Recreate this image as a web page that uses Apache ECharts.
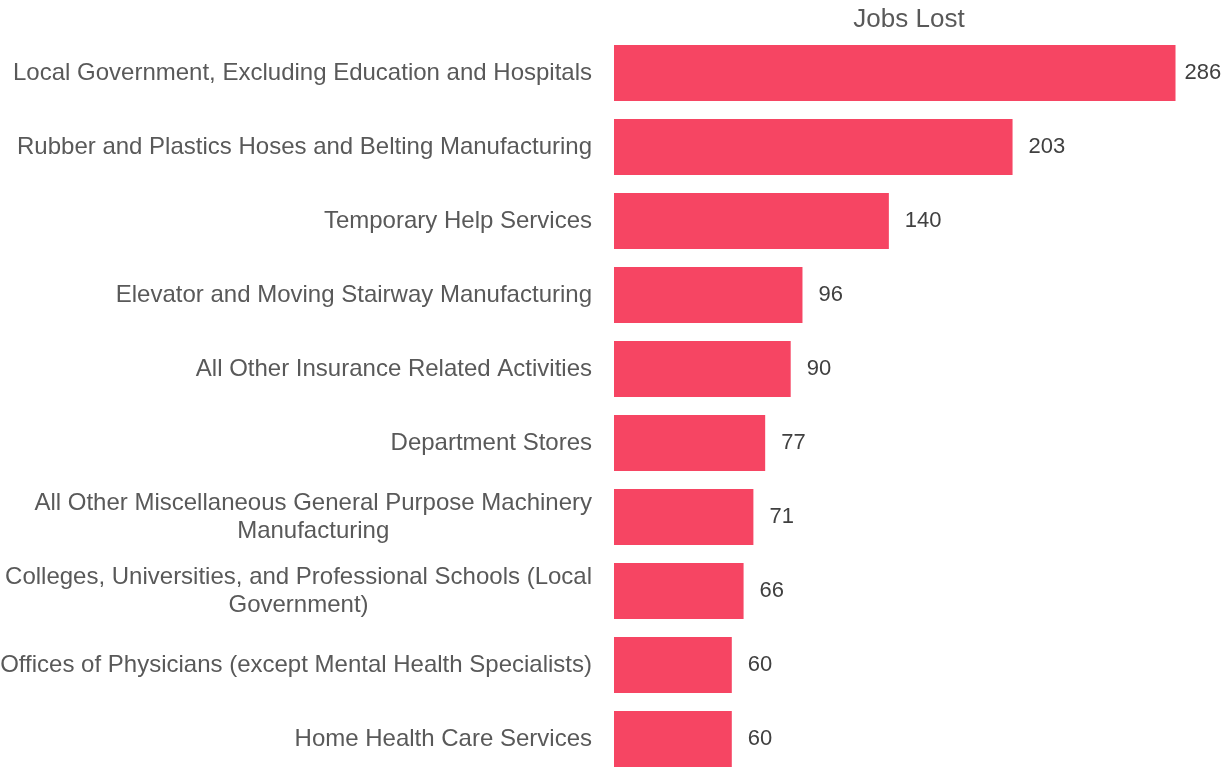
<!DOCTYPE html>
<html>
<head>
<meta charset="utf-8">
<script src="https://cdn.jsdelivr.net/npm/echarts@6/dist/echarts.min.js"></script>
<style>
  html, body { margin: 0; padding: 0; background: #ffffff; }
  #chart { width: 1225px; height: 768px; }
</style>
</head>
<body>
<div id="chart"></div>
<script>
// Industries (top to bottom) and the number of jobs lost in each
const industries = [
  'Local Government, Excluding Education and Hospitals',
  'Rubber and Plastics Hoses and Belting Manufacturing',
  'Temporary Help Services',
  'Elevator and Moving Stairway Manufacturing',
  'All Other Insurance Related Activities',
  'Department Stores',
  'All Other Miscellaneous General Purpose Machinery\nManufacturing',
  'Colleges, Universities, and Professional Schools (Local\nGovernment)',
  'Offices of Physicians (except Mental Health Specialists)',
  'Home Health Care Services'
];
const jobsLost = [286, 203, 140, 96, 90, 77, 71, 66, 60, 60];
const seriesName = 'Jobs Lost';

const FONT = "'Liberation Sans', Arial, Helvetica, sans-serif";

const chart = echarts.init(document.getElementById('chart'), null, { renderer: 'canvas' });

chart.setOption({
  animation: false,
  backgroundColor: '#ffffff',
  title: {
    text: seriesName,
    left: 904,
    top: 2,
    textAlign: 'center',
    textStyle: {
      fontFamily: FONT,
      fontSize: 26,
      fontWeight: 'normal',
      color: '#595959'
    }
  },
  grid: {
    left: 614,
    right: 22,
    top: 36,
    bottom: -8,
    outerBoundsMode: 'none',
    containLabel: false
  },
  xAxis: {
    type: 'value',
    min: 0,
    max: 300,
    show: false
  },
  yAxis: {
    type: 'category',
    inverse: true,
    data: industries,
    axisLine: { show: false },
    axisTick: { show: false },
    splitLine: { show: false },
    axisLabel: {
      margin: 22,
      formatter: function (v) {
        return v.split('\n').map(function (s) { return '{c|' + s + '}'; }).join('\n');
      },
      rich: {
        c: {
          align: 'center',
          fontFamily: FONT,
          fontSize: 24,
          lineHeight: 28,
          color: '#595959'
        }
      }
    }
  },
  series: [{
    name: seriesName,
    type: 'bar',
    data: jobsLost.map(function (v, i) {
      return i === 0 ? { value: v, label: { distance: 9 } } : v;
    }),
    barCategoryGap: '24%',
    itemStyle: { color: '#F64563' },
    label: {
      show: true,
      position: 'right',
      distance: 16,
      fontFamily: FONT,
      fontSize: 22,
      color: '#404040'
    }
  }]
});
</script>
</body>
</html>
